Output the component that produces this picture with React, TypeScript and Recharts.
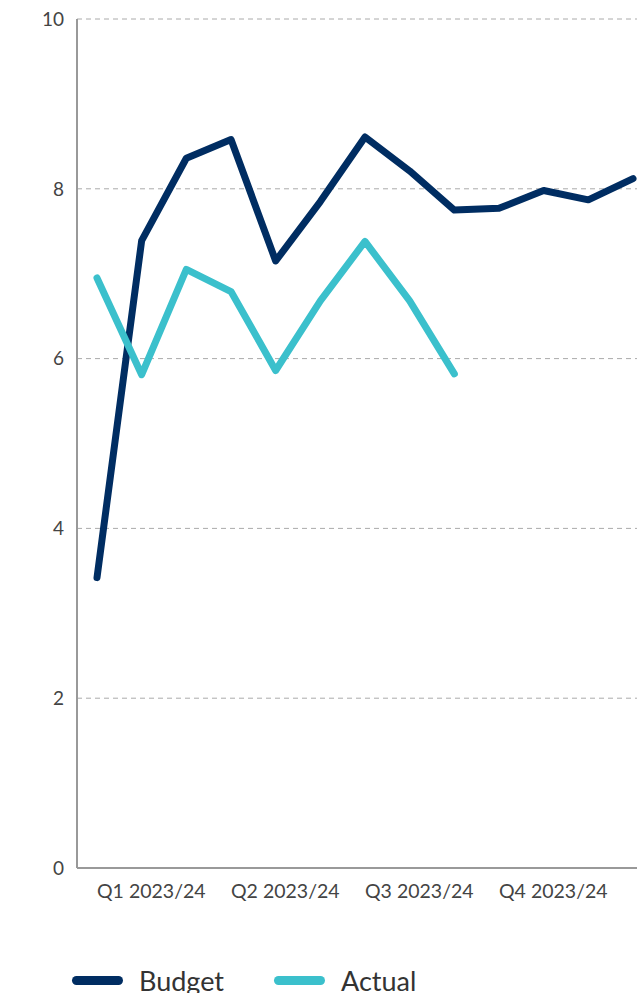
import React from 'react';
import { LineChart, Line, XAxis, YAxis, CartesianGrid, Legend } from 'recharts';

const months = [
  'Apr 2023', 'May 2023', 'Jun 2023', 'Jul 2023', 'Aug 2023', 'Sep 2023', 'Oct 2023',
  'Nov 2023', 'Dec 2023', 'Jan 2024', 'Feb 2024', 'Mar 2024', 'Apr 2024'
];
const budget = [3.42, 7.39, 8.36, 8.58, 7.15, 7.85, 8.61, 8.21, 7.75, 7.77, 7.98, 7.87, 8.12];
const actual = [6.95, 5.81, 7.05, 6.79, 5.86, 6.68, 7.38, 6.68, 5.82];
const quarterTicks = ['Apr 2023', 'Jul 2023', 'Oct 2023', 'Jan 2024'];
const quarterLabels = ['Q1 2023/24', 'Q2 2023/24', 'Q3 2023/24', 'Q4 2023/24'];
const yTicks = [0, 2, 4, 6, 8, 10];

const NAVY = '#002d62';
const TEAL = '#3bc0cc';
const FONT = 'Lato, "Open Sans", sans-serif';

const data = months.map((m, i) => ({
  month: m,
  Budget: budget[i],
  Actual: i < actual.length ? actual[i] : null,
}));

const QuarterTick = ({ x, y, payload }: any) => {
  const idx = quarterTicks.indexOf(payload.value);
  return (
    <text x={x} y={y + 22} textAnchor="start" fill="#444" fontSize={19.5} fontFamily={FONT}>
      {idx >= 0 ? quarterLabels[idx] : ''}
    </text>
  );
};

const LegendContent = () => (
  <div style={{ display: 'flex', alignItems: 'center', fontFamily: FONT, fontSize: 27, color: '#333' }}>
    {[
      { name: 'Budget', color: NAVY },
      { name: 'Actual', color: TEAL },
    ].map((item) => (
      <div key={item.name} style={{ display: 'flex', alignItems: 'center', marginRight: 50 }}>
        <span style={{ display: 'inline-block', width: 51, height: 9, borderRadius: 5, background: item.color, marginRight: 16 }} />
        <span>{item.name}</span>
      </div>
    ))}
  </div>
);

export default function App() {
  return (
    <div style={{ position: 'fixed', top: 0, left: 0, width: 637, height: 993, overflow: 'hidden', background: '#fff' }}>
      <LineChart width={680} height={1020} data={data} margin={{ top: 19, right: 27, left: 0, bottom: 59 }}>
        <CartesianGrid horizontal vertical={false} stroke="#aaa" strokeDasharray="5 4" />
        <XAxis
          dataKey="month"
          ticks={quarterTicks}
          interval={0}
          tick={<QuarterTick />}
          tickLine={false}
          axisLine={{ stroke: '#999', strokeWidth: 2 }}
          padding={{ left: 20, right: 20 }}
          height={60}
        />
        <YAxis
          domain={[0, 10]}
          ticks={yTicks}
          width={77}
          tickLine={false}
          tickMargin={7}
          axisLine={{ stroke: '#999', strokeWidth: 2 }}
          tick={{ fill: '#444', fontSize: 19, fontFamily: FONT }}
        />
        <Legend
          content={<LegendContent />}
          wrapperStyle={{ top: 964, left: 72, width: 'auto' }}
        />
        <Line type="linear" dataKey="Budget" stroke={NAVY} strokeWidth={7} strokeLinecap="round" strokeLinejoin="round" dot={false} isAnimationActive={false} />
        <Line type="linear" dataKey="Actual" stroke={TEAL} strokeWidth={7} strokeLinecap="round" strokeLinejoin="round" dot={false} isAnimationActive={false} />
      </LineChart>
    </div>
  );
}
